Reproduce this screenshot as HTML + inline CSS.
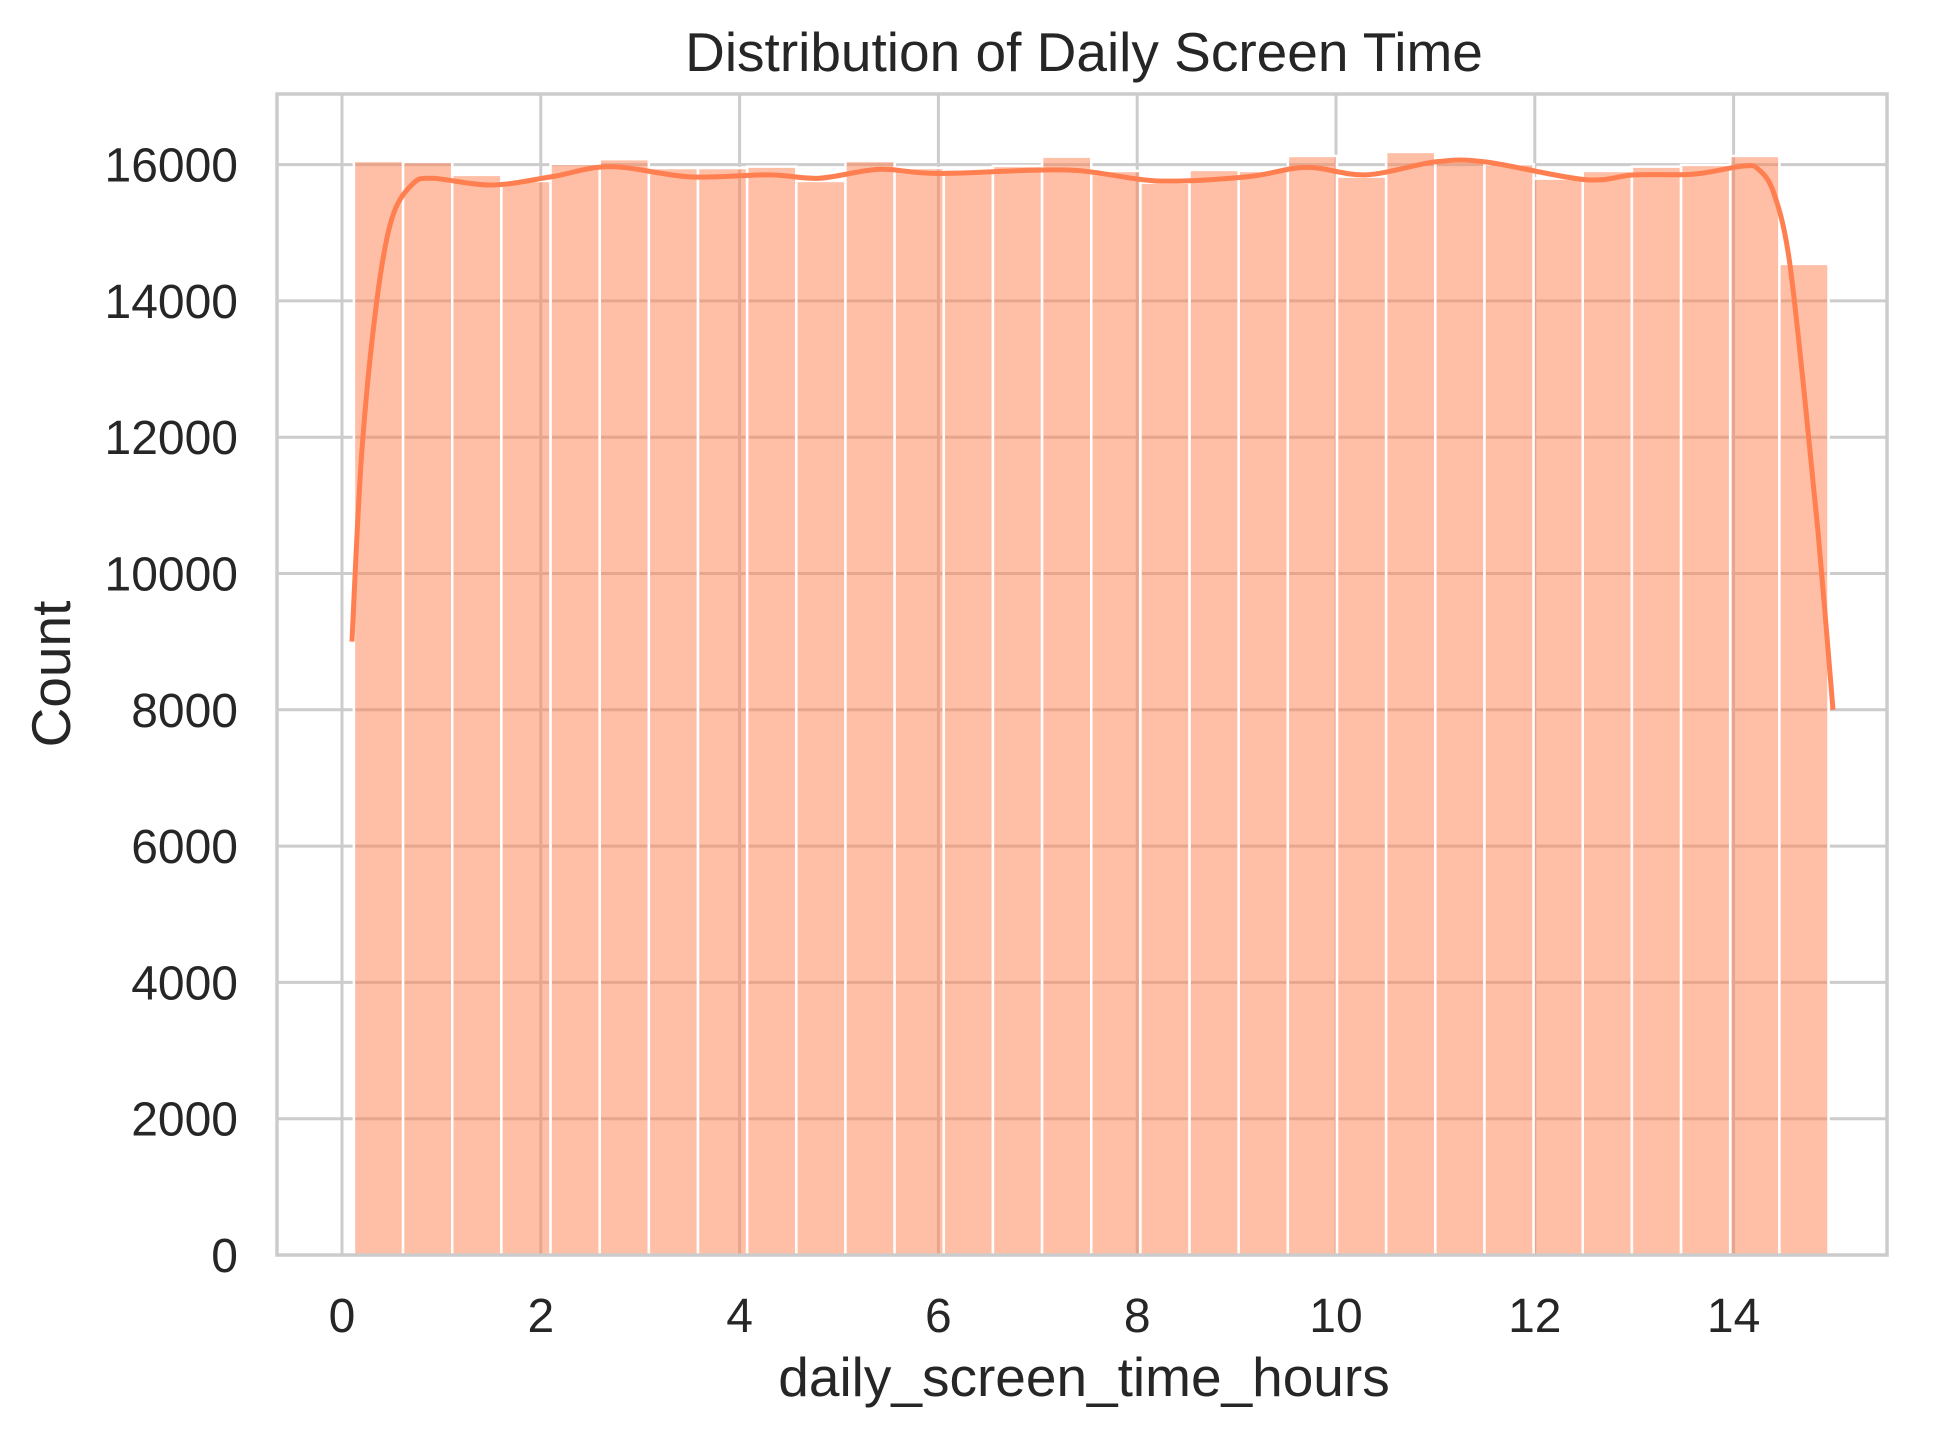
<!DOCTYPE html>
<html><head><meta charset="utf-8"><style>
html,body{margin:0;padding:0;background:#fff;}
svg text{font-family:"Liberation Sans",sans-serif;fill:#262626;}
</style></head><body>
<svg id="chart" width="1933" height="1432" xmlns="http://www.w3.org/2000/svg">
<rect width="1933" height="1432" fill="#fff"/>
<g id="grid"></g>
<g id="bars"></g>
<path id="kde" fill="none" stroke="#ff7f50" stroke-width="5" stroke-linejoin="round"/>
<rect x="277" y="94" width="1610" height="1161" fill="none" stroke="#cccccc" stroke-width="3.5"/>
<g id="ticks"></g>
<text x="1084" y="71" font-size="55" text-anchor="middle">Distribution of Daily Screen Time</text>
<text x="1084" y="1396" font-size="55" text-anchor="middle">daily_screen_time_hours</text>
<text x="0" y="0" font-size="55" text-anchor="middle" transform="translate(70,674) rotate(-90)">Count</text>
</svg>
<script>
const binStart = 0.12;
const binWidth = 0.4945;
const counts = [16054,16040,15850,15760,16010,16080,15950,15950,15970,15760,16054,15950,15930,15980,16117,15907,15736,15922,15907,16127,15824,16186,16098,16005,15795,15907,15970,15995,16127,14543];
const kdeX = [0.1,0.2,0.35,0.5,0.7,0.9,1.5,2.1,2.7,3.5,4.3,4.8,5.4,6.0,7.3,8.2,9.1,9.7,10.3,11.0,11.5,12.5,13.0,13.6,14.1,14.25,14.4,14.55,14.7,14.85,15.0];
const kdeY = [9000,11800,14000,15200,15700,15800,15700,15820,15970,15820,15850,15800,15930,15870,15920,15760,15820,15960,15850,16040,16040,15780,15850,15860,15980,15930,15600,14700,12800,10600,8000];
const xTicks = [0,2,4,6,8,10,12,14];
const yTicks = [0,2000,4000,6000,8000,10000,12000,14000,16000];

const NS = "http://www.w3.org/2000/svg";
const X = v => 342 + v * 99.4;
const Y = v => 1255 - v * (136.3 / 2000);
function mk(tag, attrs, parent) {
  const e = document.createElementNS(NS, tag);
  for (const k in attrs) e.setAttribute(k, attrs[k]);
  parent.appendChild(e);
  return e;
}
const grid = document.getElementById('grid');
const ticks = document.getElementById('ticks');
xTicks.forEach(t => {
  const l = mk('line', {x1: X(t), x2: X(t), y1: 94, y2: 1255, stroke: '#cccccc', 'stroke-width': 3}, grid);
  
  
  const tx = mk('text', {x: X(t), y: 1332, 'font-size': 48, 'text-anchor': 'middle'}, ticks);
  tx.textContent = t;
  
  
});
yTicks.forEach(t => {
  const l = mk('line', {x1: 277, x2: 1887, y1: Y(t), y2: Y(t), stroke: '#cccccc', 'stroke-width': 3}, grid);
  
  
  const tx = mk('text', {x: 238, y: Y(t) + 17, 'font-size': 48, 'text-anchor': 'end'}, ticks);
  tx.textContent = t;
  
  
});
const bars = document.getElementById('bars');
counts.forEach((c, i) => {
  const x0 = X(binStart + i * binWidth), x1 = X(binStart + (i + 1) * binWidth);
  const r = mk('rect', {x: x0, y: Y(c), width: x1 - x0, height: Y(0) - Y(c), fill: 'rgba(255,127,80,0.5)', stroke: '#ffffff', 'stroke-width': 2.5}, bars);
  
  
});
const pts = kdeX.map((x, i) => [X(x), Y(kdeY[i])]);
let d = `M${pts[0][0]},${pts[0][1]}`;
for (let i = 0; i < pts.length - 1; i++) {
  const p0 = pts[Math.max(i - 1, 0)], p1 = pts[i], p2 = pts[i + 1], p3 = pts[Math.min(i + 2, pts.length - 1)];
  const c1 = [p1[0] + (p2[0] - p0[0]) / 6, p1[1] + (p2[1] - p0[1]) / 6];
  const c2 = [p2[0] - (p3[0] - p1[0]) / 6, p2[1] - (p3[1] - p1[1]) / 6];
  d += ` C${c1[0]},${c1[1]} ${c2[0]},${c2[1]} ${p2[0]},${p2[1]}`;
}
document.getElementById('kde').setAttribute('d', d);
</script>
</body></html>
